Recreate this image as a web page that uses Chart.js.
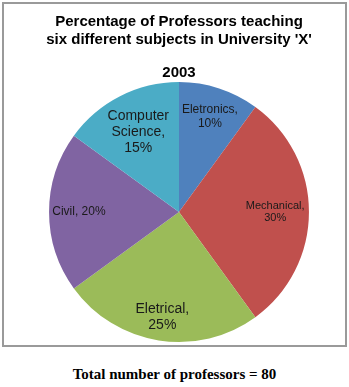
<!DOCTYPE html>
<html>
<head>
<meta charset="utf-8">
<script src="https://cdn.jsdelivr.net/npm/chart.js@4.4.0/dist/chart.umd.min.js"></script>
<style>
  body { margin: 0; background: #fff; width: 349px; height: 387px; position: relative; overflow: hidden; }
  #box { position: absolute; left: 2px; top: 2px; width: 341px; height: 341px; border: 2px solid #9a9a9a; }
  #foot { position: absolute; left: 0; top: 364px; width: 349px; text-align: center;
          font: bold 15px "Liberation Serif", "Times New Roman", serif; line-height: 20px; color: #000; }
</style>
</head>
<body>
<div id="box"><canvas id="myChart" width="341" height="341"></canvas></div>
<div id="foot">Total number of professors = 80</div>
<script>
// chart data
const subjects = ['Eletronics', 'Mechanical', 'Eletrical', 'Civil', 'Computer Science'];
const percents = [10, 30, 25, 20, 15];
const year = '2003';

// look of the slices and their labels
const sliceColors = ['#4F81BD', '#C0504D', '#9BBB59', '#8064A2', '#4BACC6'];
const labelSize = [12, 11, 14, 12, 14];
const labelRadius = [0.77, 0.74, 0.82, 0.77, 0.69];
const labelWrap = [true, true, true, false, true];

// label text: "Name," then "NN%" (long names wrap on words)
function labelLines(i) {
  if (!labelWrap[i]) return [subjects[i] + ', ' + percents[i] + '%'];
  const words = subjects[i].split(' ');
  words[words.length - 1] += ',';
  return words.concat(percents[i] + '%');
}

const sliceLabels = {
  id: 'sliceLabels',
  afterDatasetsDraw(chart) {
    const ctx = chart.ctx;
    chart.getDatasetMeta(0).data.forEach((arc, i) => {
      const p = arc.getProps(['x', 'y', 'startAngle', 'endAngle', 'outerRadius'], true);
      const mid = (p.startAngle + p.endAngle) / 2;
      const r = p.outerRadius * labelRadius[i];
      const lx = p.x + Math.cos(mid) * r;
      const ly = p.y + Math.sin(mid) * r;
      const lines = labelLines(i);
      const lh = labelSize[i] * 1.13;
      ctx.save();
      ctx.font = labelSize[i] + 'px "Liberation Sans", Arial, sans-serif';
      ctx.fillStyle = '#1a1a1a';
      ctx.textAlign = 'center';
      ctx.textBaseline = 'middle';
      lines.forEach((t, j) => ctx.fillText(t, lx, ly + (j - (lines.length - 1) / 2) * lh));
      ctx.restore();
    });
  }
};

const ctx = document.getElementById('myChart').getContext('2d');
const myChart = new Chart(ctx, {
  type: 'pie',
  data: {
    labels: subjects,
    datasets: [{
      data: percents,
      backgroundColor: sliceColors,
      borderWidth: 0
    }]
  },
  options: {
    responsive: false,
    animation: false,
    events: [],
    layout: { padding: { left: 9, right: 0, top: 0, bottom: 3 } },
    plugins: {
      legend: { display: false },
      tooltip: { enabled: false },
      title: {
        display: true,
        text: ['Percentage of Professors teaching', "six different subjects in University 'X'"],
        color: '#000',
        font: { family: '"Liberation Sans", Arial, sans-serif', size: 15, weight: 'bold', lineHeight: 1.22 },
        padding: { top: 8.5, bottom: 0 }
      },
      subtitle: {
        display: true,
        text: year,
        color: '#000',
        font: { family: '"Liberation Sans", Arial, sans-serif', size: 15, weight: 'bold', lineHeight: 1.2 },
        padding: { top: 15, bottom: 0 }
      }
    }
  },
  plugins: [sliceLabels]
});
</script>
</body>
</html>
